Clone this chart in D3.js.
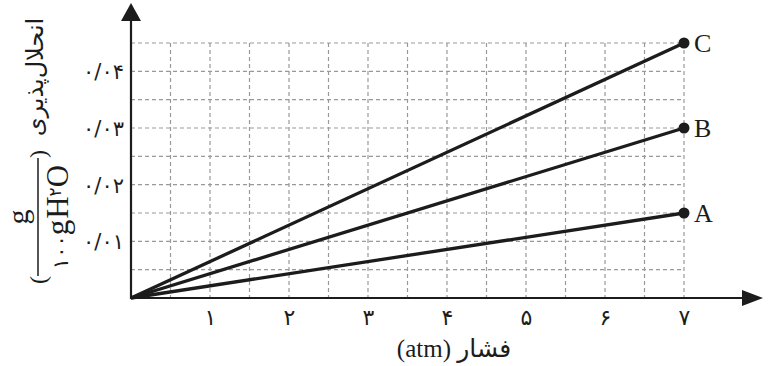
<!DOCTYPE html>
<html>
<head>
<meta charset="utf-8">
<script src="https://cdn.jsdelivr.net/npm/d3@7"></script>
<style>
  html, body { margin: 0; padding: 0; background: #fff; }
  svg { display: block; }
</style>
</head>
<body>
<svg id="chart" width="774" height="366"></svg>
<script>
// ---- data ----
const xTicks = [1, 2, 3, 4, 5, 6, 7];
const xTickLabels = ["۱", "۲", "۳", "۴", "۵", "۶", "۷"];
const yTicks = [0.01, 0.02, 0.03, 0.04];
const yTickLabels = ["۰/۰۱", "۰/۰۲", "۰/۰۳", "۰/۰۴"];
const seriesNames = ["A", "B", "C"];
const pressures = [0, 7];
const solA = [0, 0.015];
const solB = [0, 0.030];
const solC = [0, 0.045];
const xGrid = [0.5, 1, 1.5, 2, 2.5, 3, 3.5, 4, 4.5, 5, 5.5, 6, 6.5, 7];
const yGrid = [0.005, 0.01, 0.015, 0.02, 0.025, 0.03, 0.035, 0.04, 0.045];
const xTitle = "فشار (atm)";
const yTitleWord = "انحلال\u200cپذیری";

// ---- layout ----
const svg = d3.select("#chart");
const x = d3.scaleLinear().domain([0, 7]).range([131, 684]);
const y = d3.scaleLinear().domain([0, 0.045]).range([298, 43]);
const serif = "'Liberation Serif', 'DejaVu Sans', serif";
const fa = "'DejaVu Sans', sans-serif";
const ink = "#1c1c1c";

// grid
const g = svg.append("g");
g.selectAll("line.vg").data(xGrid).join("line")
  .attr("x1", d => x(d)).attr("x2", d => x(d))
  .attr("y1", y(0.045)).attr("y2", y(0))
  .attr("stroke", "#999").attr("stroke-width", 1.2).attr("stroke-dasharray", "4,3");
g.selectAll("line.hg").data(yGrid).join("line")
  .attr("x1", x(0)).attr("x2", x(7))
  .attr("y1", d => y(d)).attr("y2", d => y(d))
  .attr("stroke", "#999").attr("stroke-width", 1.2).attr("stroke-dasharray", "4,3");

// axes lines with arrows
svg.append("line").attr("x1", x(0)).attr("x2", 748).attr("y1", y(0)).attr("y2", y(0))
  .attr("stroke", ink).attr("stroke-width", 2.2);
svg.append("path").attr("d", `M763,${y(0)} L742,${y(0) - 8} L742,${y(0) + 8} Z`).attr("fill", ink);
svg.append("line").attr("x1", x(0)).attr("x2", x(0)).attr("y1", y(0) + 1).attr("y2", 14)
  .attr("stroke", ink).attr("stroke-width", 2.2);
svg.append("path").attr("d", `M${x(0)},3 L${x(0) - 10},21 L${x(0) + 10},21 Z`).attr("fill", ink);

// x tick labels
const xAxis = d3.axisBottom(x).tickValues(xTicks).tickSize(0)
  .tickFormat((d, i) => xTickLabels[i]);
const xa = svg.append("g").attr("transform", `translate(0,${y(0)})`).call(xAxis);
xa.select(".domain").remove();
xa.selectAll("text").attr("font-family", fa).attr("font-size", 22).attr("fill", ink)
  .attr("dy", null).attr("y", 27);

// y tick labels
const yAxis = d3.axisLeft(y).tickValues(yTicks).tickSize(0)
  .tickFormat((d, i) => yTickLabels[i]);
const ya = svg.append("g").attr("transform", `translate(${x(0) - 7},0)`).call(yAxis);
ya.select(".domain").remove();
ya.selectAll("text").attr("font-family", fa).attr("font-size", 21).attr("fill", ink)
  .attr("dy", "0.35em").attr("x", 0);

// series lines
const series = [solA, solB, solC];
const lineGen = d3.line().x((d, i) => x(pressures[i])).y(d => y(d));
svg.selectAll("path.series").data(series).join("path")
  .attr("d", d => lineGen(d))
  .attr("fill", "none").attr("stroke", ink).attr("stroke-width", 3.3);
svg.selectAll("circle.end").data(series).join("circle")
  .attr("cx", x(pressures[1])).attr("cy", d => y(d[1])).attr("r", 5.5).attr("fill", ink);
svg.selectAll("text.lab").data(series).join("text")
  .attr("x", x(pressures[1]) + 10).attr("y", d => y(d[1]) + 9)
  .attr("font-family", serif).attr("font-size", 26).attr("fill", ink)
  .text((d, i) => seriesNames[i]);

// x title
svg.append("text").attr("x", 454).attr("y", 357)
  .attr("direction", "rtl").attr("text-anchor", "middle")
  .attr("font-family", serif).attr("font-size", 25).attr("fill", ink)
  .text(xTitle);

// y title (rotated)
const yt = svg.append("g").attr("transform", "rotate(-90)");
yt.append("text").attr("x", -77).attr("y", 43).attr("text-anchor", "middle")
  .attr("direction", "rtl")
  .attr("font-family", fa).attr("font-size", 24).attr("fill", ink).text(yTitleWord);
yt.append("text").attr("x", -280).attr("y", 46).attr("text-anchor", "middle")
  .attr("font-family", serif).attr("font-size", 24).attr("fill", ink).text("(");
yt.append("text").attr("x", -154).attr("y", 46).attr("text-anchor", "middle")
  .attr("font-family", serif).attr("font-size", 24).attr("fill", ink).text(")");
yt.append("text").attr("x", -217).attr("y", 28).attr("text-anchor", "middle")
  .attr("font-family", serif).attr("font-size", 30).attr("fill", ink).text("g");
yt.append("line").attr("x1", -158).attr("x2", -276).attr("y1", 38).attr("y2", 38)
  .attr("stroke", ink).attr("stroke-width", 1.5);
const den = yt.append("text").attr("x", -217).attr("y", 68).attr("text-anchor", "middle")
  .attr("font-family", serif).attr("font-size", 31).attr("fill", ink);
den.append("tspan").attr("font-family", fa).attr("font-size", 21).text("۱۰۰");
den.append("tspan").text("g");
den.append("tspan").attr("dx", 1).text("H");
den.append("tspan").attr("font-family", fa).attr("font-size", 17).attr("dy", -7).text("۲");
den.append("tspan").attr("dy", 7).text("O");
</script>
</body>
</html>
